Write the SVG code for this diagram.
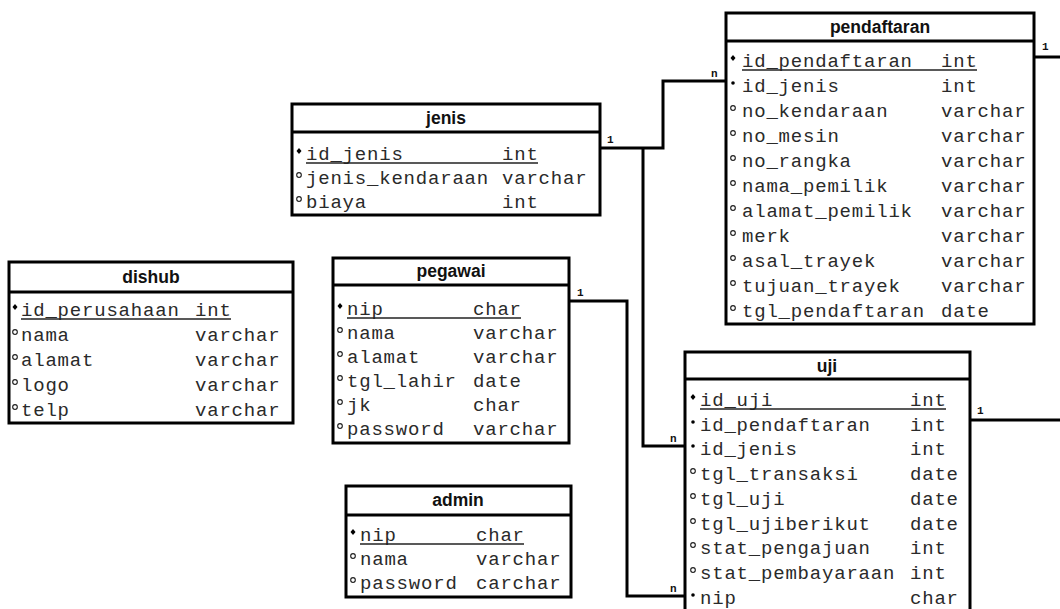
<svg xmlns="http://www.w3.org/2000/svg" width="1060" height="609" viewBox="0 0 1060 609">
<style>
.box{fill:#fff;stroke:#000;stroke-width:3}
.sep{stroke:#000;stroke-width:3}
.title{font-family:"Liberation Sans",Arial,sans-serif;font-weight:bold;font-size:17.5px;text-anchor:middle;fill:#111}
.f{font-family:"Liberation Mono","Courier New",monospace;font-size:19px;letter-spacing:0.8px;fill:#2a2a2a}
.ul{stroke:#222;stroke-width:1.5}
.pk{fill:#000}
.fk{fill:#000}
.at{fill:none;stroke:#222;stroke-width:1.2}
.conn{fill:none;stroke:#000;stroke-width:3}
.lbl{font-family:"Liberation Mono","Courier New",monospace;font-weight:bold;font-size:11px;fill:#111}
</style>
<defs>
<path id="pk" d="M0,-3 L2.5,0 L0,3 L-2.5,0 Z"/>
<circle id="fk" r="1.8"/>
<circle id="at" r="2.3"/>
</defs>
<rect width="1060" height="609" fill="#fff"/>

<g id="connectors">
<polyline class="conn" points="600,148 663,148 663,81 726,81"/>
<polyline class="conn" points="643,148 643,446 685,446"/>
<polyline class="conn" points="569,301 627,301 627,596 685,596"/>
<line class="conn" x1="1034" y1="57" x2="1060" y2="57"/>
<line class="conn" x1="970" y1="420" x2="1060" y2="420"/>
<text class="lbl" x="607" y="143">1</text>
<text class="lbl" x="711" y="77">n</text>
<text class="lbl" x="670" y="442">n</text>
<text class="lbl" x="670" y="592">n</text>
<text class="lbl" x="577" y="296">1</text>
<text class="lbl" x="1042" y="50">1</text>
<text class="lbl" x="977" y="414">1</text>
</g>

<g id="pendaftaran">
<rect class="box" x="726" y="13" width="308" height="311"/>
<line class="sep" x1="726" y1="41" x2="1034" y2="41"/>
<text class="title" x="880" y="33">pendaftaran</text>
<use href="#pk" class="pk" x="733" y="58"/><text class="f" x="742" y="67">id_pendaftaran</text><text class="f" x="941" y="67">int</text>
<line class="ul" x1="742" y1="70" x2="977" y2="70"/>
<use href="#fk" class="fk" x="733" y="83"/><text class="f" x="742" y="92">id_jenis</text><text class="f" x="941" y="92">int</text>
<use href="#at" class="at" x="733" y="108"/><text class="f" x="742" y="117">no_kendaraan</text><text class="f" x="941" y="117">varchar</text>
<use href="#at" class="at" x="733" y="133"/><text class="f" x="742" y="142">no_mesin</text><text class="f" x="941" y="142">varchar</text>
<use href="#at" class="at" x="733" y="158"/><text class="f" x="742" y="167">no_rangka</text><text class="f" x="941" y="167">varchar</text>
<use href="#at" class="at" x="733" y="183"/><text class="f" x="742" y="192">nama_pemilik</text><text class="f" x="941" y="192">varchar</text>
<use href="#at" class="at" x="733" y="208"/><text class="f" x="742" y="217">alamat_pemilik</text><text class="f" x="941" y="217">varchar</text>
<use href="#at" class="at" x="733" y="233"/><text class="f" x="742" y="242">merk</text><text class="f" x="941" y="242">varchar</text>
<use href="#at" class="at" x="733" y="258"/><text class="f" x="742" y="267">asal_trayek</text><text class="f" x="941" y="267">varchar</text>
<use href="#at" class="at" x="733" y="283"/><text class="f" x="742" y="292">tujuan_trayek</text><text class="f" x="941" y="292">varchar</text>
<use href="#at" class="at" x="733" y="308"/><text class="f" x="742" y="317">tgl_pendaftaran</text><text class="f" x="941" y="317">date</text>
</g>

<g id="jenis">
<rect class="box" x="292" y="104" width="308" height="111"/>
<line class="sep" x1="292" y1="132" x2="600" y2="132"/>
<text class="title" x="446" y="124">jenis</text>
<use href="#pk" class="pk" x="299" y="151"/><text class="f" x="306" y="160">id_jenis</text><text class="f" x="502" y="160">int</text>
<line class="ul" x1="306" y1="163" x2="538" y2="163"/>
<use href="#at" class="at" x="299" y="175"/><text class="f" x="306" y="184">jenis_kendaraan</text><text class="f" x="502" y="184">varchar</text>
<use href="#at" class="at" x="299" y="199"/><text class="f" x="306" y="208">biaya</text><text class="f" x="502" y="208">int</text>
</g>

<g id="dishub">
<rect class="box" x="9" y="262" width="284" height="161"/>
<line class="sep" x1="9" y1="292" x2="293" y2="292"/>
<text class="title" x="151" y="283">dishub</text>
<use href="#pk" class="pk" x="15" y="307"/><text class="f" x="21" y="316">id_perusahaan</text><text class="f" x="195" y="316">int</text>
<line class="ul" x1="21" y1="319" x2="231" y2="319"/>
<use href="#at" class="at" x="15" y="332"/><text class="f" x="21" y="341">nama</text><text class="f" x="195" y="341">varchar</text>
<use href="#at" class="at" x="15" y="357"/><text class="f" x="21" y="366">alamat</text><text class="f" x="195" y="366">varchar</text>
<use href="#at" class="at" x="15" y="382"/><text class="f" x="21" y="391">logo</text><text class="f" x="195" y="391">varchar</text>
<use href="#at" class="at" x="15" y="407"/><text class="f" x="21" y="416">telp</text><text class="f" x="195" y="416">varchar</text>
</g>

<g id="pegawai">
<rect class="box" x="333" y="258" width="236" height="185"/>
<line class="sep" x1="333" y1="285" x2="569" y2="285"/>
<text class="title" x="451" y="277">pegawai</text>
<use href="#pk" class="pk" x="340" y="306"/><text class="f" x="347" y="315">nip</text><text class="f" x="473" y="315">char</text>
<line class="ul" x1="347" y1="318" x2="521" y2="318"/>
<use href="#at" class="at" x="340" y="330"/><text class="f" x="347" y="339">nama</text><text class="f" x="473" y="339">varchar</text>
<use href="#at" class="at" x="340" y="354"/><text class="f" x="347" y="363">alamat</text><text class="f" x="473" y="363">varchar</text>
<use href="#at" class="at" x="340" y="378"/><text class="f" x="347" y="387">tgl_lahir</text><text class="f" x="473" y="387">date</text>
<use href="#at" class="at" x="340" y="402"/><text class="f" x="347" y="411">jk</text><text class="f" x="473" y="411">char</text>
<use href="#at" class="at" x="340" y="426"/><text class="f" x="347" y="435">password</text><text class="f" x="473" y="435">varchar</text>
</g>

<g id="admin">
<rect class="box" x="346" y="486" width="225" height="111"/>
<line class="sep" x1="346" y1="515" x2="571" y2="515"/>
<text class="title" x="458" y="506">admin</text>
<use href="#pk" class="pk" x="353" y="532"/><text class="f" x="360" y="541">nip</text><text class="f" x="476" y="541">char</text>
<line class="ul" x1="360" y1="544" x2="524" y2="544"/>
<use href="#at" class="at" x="353" y="556"/><text class="f" x="360" y="565">nama</text><text class="f" x="476" y="565">varchar</text>
<use href="#at" class="at" x="353" y="580"/><text class="f" x="360" y="589">password</text><text class="f" x="476" y="589">carchar</text>
</g>

<g id="uji">
<rect class="box" x="685" y="352" width="285" height="270"/>
<line class="sep" x1="685" y1="379" x2="970" y2="379"/>
<text class="title" x="827" y="372">uji</text>
<use href="#pk" class="pk" x="693" y="397"/><text class="f" x="700" y="406">id_uji</text><text class="f" x="910" y="406">int</text>
<line class="ul" x1="700" y1="409" x2="946" y2="409"/>
<use href="#fk" class="fk" x="693" y="422"/><text class="f" x="700" y="431">id_pendaftaran</text><text class="f" x="910" y="431">int</text>
<use href="#fk" class="fk" x="693" y="446"/><text class="f" x="700" y="455">id_jenis</text><text class="f" x="910" y="455">int</text>
<use href="#at" class="at" x="693" y="471"/><text class="f" x="700" y="480">tgl_transaksi</text><text class="f" x="910" y="480">date</text>
<use href="#at" class="at" x="693" y="496"/><text class="f" x="700" y="505">tgl_uji</text><text class="f" x="910" y="505">date</text>
<use href="#at" class="at" x="693" y="521"/><text class="f" x="700" y="530">tgl_ujiberikut</text><text class="f" x="910" y="530">date</text>
<use href="#at" class="at" x="693" y="545"/><text class="f" x="700" y="554">stat_pengajuan</text><text class="f" x="910" y="554">int</text>
<use href="#at" class="at" x="693" y="570"/><text class="f" x="700" y="579">stat_pembayaraan</text><text class="f" x="910" y="579">int</text>
<use href="#fk" class="fk" x="693" y="595"/><text class="f" x="700" y="604">nip</text><text class="f" x="910" y="604">char</text>
</g>
</svg>
